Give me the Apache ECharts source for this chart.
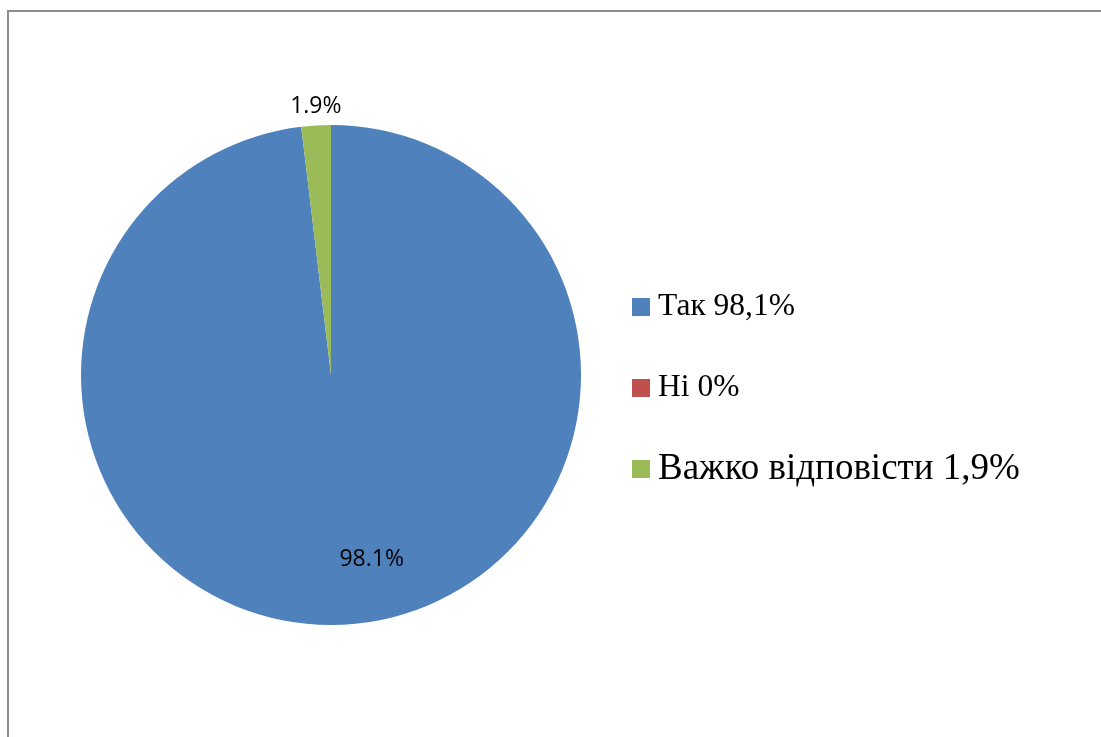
<!DOCTYPE html>
<html>
<head>
<meta charset="utf-8">
<script src="https://cdn.jsdelivr.net/npm/echarts@6/dist/echarts.min.js"></script>
<style>
  html, body { margin: 0; padding: 0; background: #fff; }
  #main { width: 1101px; height: 737px; }
</style>
</head>
<body>
<div id="main"></div>
<script>
// дані діаграми
var categories = ['Так', 'Ні', 'Важко відповісти'];
var values = [98.1, 0, 1.9];
var legendLabels = ['Так 98,1%', 'Ні 0%', 'Важко відповісти 1,9%'];
var colors = ['#4F81BD', '#C0504D', '#9BBB59'];
var legendFontSizes = [31.5, 31.5, 37];

var myChart = echarts.init(document.getElementById('main'));

var pieData = categories.map(function (name, i) {
  var item = { name: name, value: values[i], itemStyle: { color: colors[i] } };
  if (values[i] === 0) {
    item.label = { show: false };
  } else if (i === 2) {
    item.label = { position: 'outside' };
  }
  return item;
});

var legendData = categories.map(function (name, i) {
  return {
    name: name,
    textStyle: { fontSize: legendFontSizes[i], lineHeight: 40 }
  };
});

var option = {
  backgroundColor: '#fff',
  animation: false,
  graphic: [
    {
      type: 'rect',
      shape: { x: 8, y: 11, width: 1300, height: 900 },
      style: { fill: 'none', stroke: '#8c8c8c', lineWidth: 2 },
      z: -1
    }
  ],
  legend: {
    orient: 'vertical',
    left: 632,
    top: 287,
    padding: 0,
    itemGap: 41,
    itemWidth: 18,
    itemHeight: 18,
    icon: 'rect',
    data: legendData,
    formatter: function (name) {
      return legendLabels[categories.indexOf(name)];
    },
    textStyle: {
      fontFamily: 'Liberation Serif',
      color: '#000',
      padding: [0, 0, 0, 3]
    }
  },
  series: [
    {
      type: 'pie',
      center: [331, 375],
      radius: 250,
      startAngle: 90,
      clockwise: true,
      percentPrecision: 1,
      avoidLabelOverlap: false,
      data: pieData,
      label: {
        show: true,
        position: 'inside',
        formatter: '{d}%',
        fontFamily: 'Open Sans',
        fontSize: 23,
        color: '#000'
      },
      labelLine: { show: false, length: 10, length2: 0 },
      labelLayout: function (params) {
        if (params.dataIndex === 0) {
          return { dx: 33, dy: 57 };
        }
        if (params.dataIndex === 2) {
          return { dx: 31, dy: -9 };
        }
        return {};
      },
      emphasis: { disabled: true }
    }
  ]
};

myChart.setOption(option);
</script>
</body>
</html>
